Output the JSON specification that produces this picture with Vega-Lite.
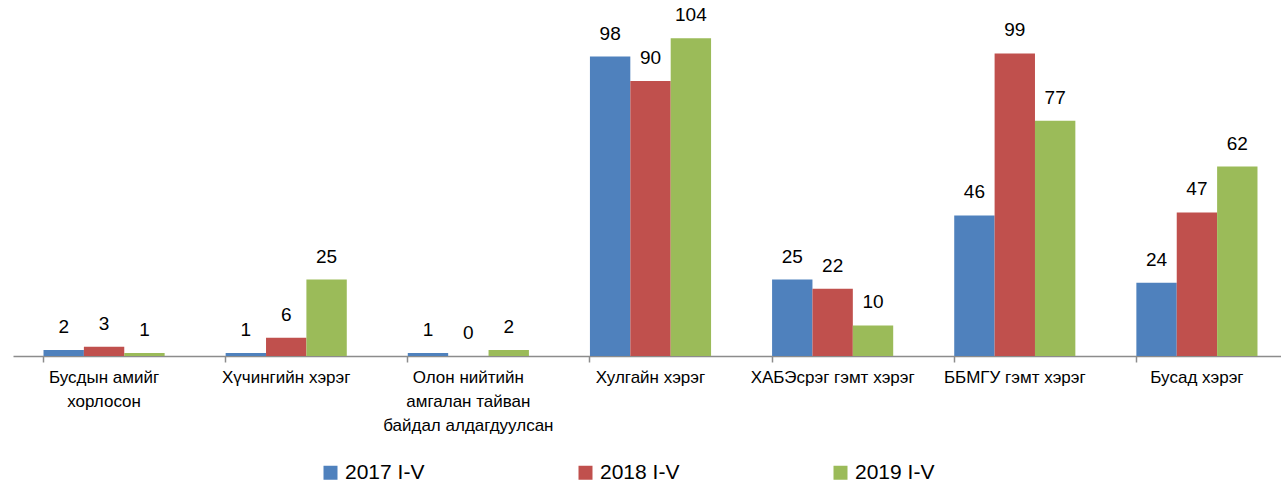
{
  "$schema": "https://vega.github.io/schema/vega-lite/v6.json",
  "autosize": "none",
  "width": 1275,
  "height": 356,
  "padding": {"left": 13, "top": 0, "right": 0, "bottom": 134},
  "background": "#ffffff",
  "config": {"view": {"stroke": null}, "font": "Liberation Sans"},
  "data": {
    "values": [
      {"category": "Бусдын амийг|хорлосон", "series": "2017 I-V", "value": 2},
      {"category": "Бусдын амийг|хорлосон", "series": "2018 I-V", "value": 3},
      {"category": "Бусдын амийг|хорлосон", "series": "2019 I-V", "value": 1},
      {"category": "Хүчингийн хэрэг", "series": "2017 I-V", "value": 1},
      {"category": "Хүчингийн хэрэг", "series": "2018 I-V", "value": 6},
      {"category": "Хүчингийн хэрэг", "series": "2019 I-V", "value": 25},
      {"category": "Олон нийтийн|амгалан тайван|байдал алдагдуулсан", "series": "2017 I-V", "value": 1},
      {"category": "Олон нийтийн|амгалан тайван|байдал алдагдуулсан", "series": "2018 I-V", "value": 0},
      {"category": "Олон нийтийн|амгалан тайван|байдал алдагдуулсан", "series": "2019 I-V", "value": 2},
      {"category": "Хулгайн хэрэг", "series": "2017 I-V", "value": 98},
      {"category": "Хулгайн хэрэг", "series": "2018 I-V", "value": 90},
      {"category": "Хулгайн хэрэг", "series": "2019 I-V", "value": 104},
      {"category": "ХАБЭсрэг гэмт хэрэг", "series": "2017 I-V", "value": 25},
      {"category": "ХАБЭсрэг гэмт хэрэг", "series": "2018 I-V", "value": 22},
      {"category": "ХАБЭсрэг гэмт хэрэг", "series": "2019 I-V", "value": 10},
      {"category": "ББМГУ гэмт хэрэг", "series": "2017 I-V", "value": 46},
      {"category": "ББМГУ гэмт хэрэг", "series": "2018 I-V", "value": 99},
      {"category": "ББМГУ гэмт хэрэг", "series": "2019 I-V", "value": 77},
      {"category": "Бусад хэрэг", "series": "2017 I-V", "value": 24},
      {"category": "Бусад хэрэг", "series": "2018 I-V", "value": 47},
      {"category": "Бусад хэрэг", "series": "2019 I-V", "value": 62}
    ]
  },
  "encoding": {
    "xOffset": {"field": "series", "type": "nominal", "sort": null, "scale": {"paddingInner": 0, "paddingOuter": 0}},
    "y": {"field": "value", "type": "quantitative", "scale": {"domain": [0, 116.5], "nice": false}, "axis": null}
  },
  "layer": [
    {
      "mark": {"type": "bar"},
      "encoding": {
        "x": {
          "field": "category", "type": "nominal", "sort": null,
          "scale": {"paddingInner": 0.335, "paddingOuter": 0.1675},
          "axis": {
            "orient": "bottom",
            "title": null, "domain": false, "ticks": false, "grid": false,
            "labelAngle": 0, "labelAlign": "center", "labelBaseline": "top",
            "labelExpr": "split(datum.label, '|')",
            "labelFontSize": 17, "labelLineHeight": 24, "labelPadding": 13,
            "labelColor": "#000000", "labelLimit": 400
          }
        },
        "color": {
          "field": "series", "type": "nominal", "sort": null,
          "scale": {"domain": ["2017 I-V", "2018 I-V", "2019 I-V"], "range": ["#4F81BD", "#C0504D", "#9BBB59"]},
          "legend": {
            "orient": "none", "legendX": 307, "legendY": 462, "direction": "horizontal",
            "title": null, "symbolType": "square", "symbolSize": 196, "symbolStrokeWidth": 0,
            "labelFontSize": 21, "labelOffset": 4, "columnPadding": 150, "labelColor": "#000000"
          }
        }
      }
    },
    {
      "mark": {"type": "text", "baseline": "alphabetic", "dy": -17, "fontSize": 19, "color": "#000000"},
      "encoding": {
        "x": {
          "field": "category", "type": "nominal", "sort": null,
          "scale": {"paddingInner": 0.335, "paddingOuter": 0.1675},
          "axis": {
            "orient": "bottom",
            "title": null, "labels": false, "grid": false, "bandPosition": 0,
            "domain": true, "domainColor": "#8c8c8c", "domainWidth": 1.5,
            "ticks": true, "tickColor": "#8c8c8c", "tickWidth": 1.5, "tickSize": 6
          }
        },
        "text": {"field": "value", "type": "quantitative"}
      }
    }
  ],
  "resolve": {"axis": {"x": "independent"}}
}
